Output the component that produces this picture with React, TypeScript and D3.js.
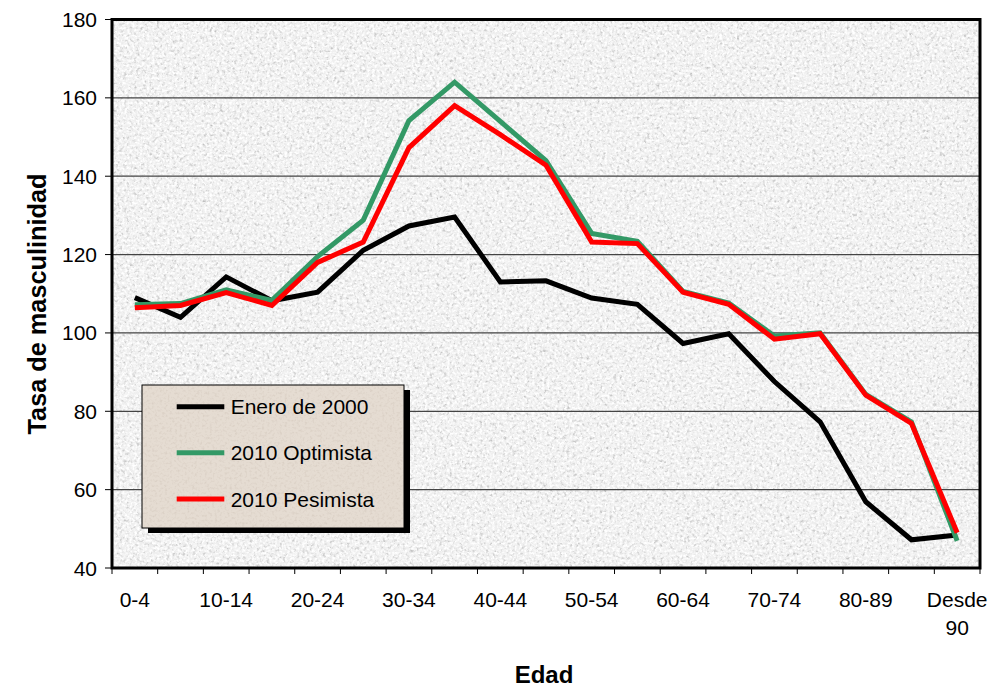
import React from "react";
import * as d3 from "d3";

const categories = ["0-4","5-9","10-14","15-19","20-24","25-29","30-34","35-39","40-44","45-49","50-54","55-59","60-64","65-69","70-74","75-79","80-89","85-89","Desde 90"];
const enero2000 = [109, 104, 114.3, 108.2, 110.4, 121.1, 127.3, 129.6, 113, 113.3, 108.9, 107.3, 97.3, 99.8, 87.6, 77.3, 56.9, 47.2, 48.4];
const optimista2010 = [107.2, 107.5, 111, 108.3, 119.5, 128.8, 154.2, 164, 154, 144, 125.4, 123.4, 110.6, 107.6, 99.2, 100, 84.3, 77.3, 46.9];
const pesimista2010 = [106.4, 107, 110.3, 107, 118, 123.2, 147.3, 158, 150.6, 142.8, 123.2, 122.8, 110.4, 107.3, 98.4, 99.8, 84.1, 76.9, 49];
const yTicks = [40, 60, 80, 100, 120, 140, 160, 180];

const seriesList = [
  { name: "Enero de 2000", values: enero2000, color: "#000000" },
  { name: "2010 Optimista", values: optimista2010, color: "#339966" },
  { name: "2010 Pesimista", values: pesimista2010, color: "#ff0000" },
];

const FONT = "'Liberation Sans', Arial, Helvetica, sans-serif";

export default function App() {
  const W = 992, H = 691;
  const x0 = 112, x1 = 980, y0 = 19.5, y1 = 568;
  const x = d3.scaleBand<string>().domain(categories).range([x0, x1]).padding(0);
  const y = d3.scaleLinear().domain([40, 180]).range([y1, y0]);
  const cx = (i: number) => (x(categories[i]) as number) + x.bandwidth() / 2;
  const line = d3.line<number>().x((_, i) => cx(i)).y((v) => y(v));

  const lg = { x: 142, y: 385, w: 262, h: 143 };
  const legendRows = [406.7, 452.7, 499];
  const fs = 21;

  return (
    <svg width={W} height={H} style={{ position: "absolute", left: 0, top: 0, background: "#fff" }} fontFamily={FONT}>
      <defs>
        <filter id="graniteDark" x="0" y="0" width="1" height="1">
          <feTurbulence type="fractalNoise" baseFrequency="0.3" numOctaves="3" seed="7" />
          <feColorMatrix type="matrix" values="0 0 0 0 0.5  0 0 0 0 0.5  0 0 0 0 0.5  2.4 0 0 0 -1.2" />
        </filter>
        <filter id="graniteLight" x="0" y="0" width="1" height="1">
          <feTurbulence type="fractalNoise" baseFrequency="0.4" numOctaves="2" seed="21" />
          <feColorMatrix type="matrix" values="0 0 0 0 1  0 0 0 0 1  0 0 0 0 1  0 3 0 0 -1.2" />
        </filter>
        <filter id="legendNoise" x="0" y="0" width="1" height="1">
          <feTurbulence type="fractalNoise" baseFrequency="0.4" numOctaves="2" seed="11" />
          <feColorMatrix type="matrix" values="0 0 0 0 0.6  0 0 0 0 0.52  0 0 0 0 0.45  2.2 0 0 0 -1.05" />
        </filter>
        <clipPath id="plotClip">
          <rect x={x0} y={y0} width={x1 - x0} height={y1 - y0} />
        </clipPath>
      </defs>

      {/* plot background */}
      <rect x={x0} y={y0} width={x1 - x0} height={y1 - y0} fill="#efefef" />
      <rect x={x0} y={y0} width={x1 - x0} height={y1 - y0} filter="url(#graniteDark)" />
      <rect x={x0} y={y0} width={x1 - x0} height={y1 - y0} filter="url(#graniteLight)" />

      {/* gridlines */}
      {yTicks.filter((t) => t > 40 && t < 180).map((t) => (
        <line key={t} x1={x0} x2={x1} y1={y(t)} y2={y(t)} stroke="#444" strokeWidth={1.2} />
      ))}

      {/* series */}
      <g clipPath="url(#plotClip)">
        {seriesList.map((s) => (
          <path key={s.name} d={line(s.values) || ""} fill="none" stroke={s.color} strokeWidth={5} strokeLinejoin="miter" />
        ))}
      </g>

      {/* plot border */}
      <rect x={x0} y={y0} width={x1 - x0} height={y1 - y0} fill="none" stroke="#000" strokeWidth={3} />

      {/* y ticks */}
      {yTicks.map((t) => (
        <g key={t}>
          <line x1={105} x2={x0} y1={y(t)} y2={y(t)} stroke="#000" strokeWidth={1} />
          <text x={97} y={y(t) + 7.5} textAnchor="end" fontSize={fs} fill="#000">{t}</text>
        </g>
      ))}

      {/* x ticks */}
      {categories.map((c) => (
        <line key={c + "t"} x1={x(c) as number} x2={x(c) as number} y1={y1} y2={574} stroke="#000" strokeWidth={1} />
      ))}
      <line x1={x1} x2={x1} y1={y1} y2={574} stroke="#000" strokeWidth={1} />
      {categories.map((c, i) => {
        if (i % 2 !== 0) return null;
        const parts = c === "Desde 90" ? ["Desde", "90"] : [c];
        return (
          <text key={c} x={cx(i)} y={606.7} textAnchor="middle" fontSize={fs} fill="#000">
            {parts.map((p, k) => (
              <tspan key={k} x={cx(i)} dy={k === 0 ? 0 : 28.3}>{p}</tspan>
            ))}
          </text>
        );
      })}

      {/* axis titles */}
      <text x={544} y={683} textAnchor="middle" fontSize={24} fontWeight="bold" fill="#000">Edad</text>
      <text transform={`translate(46,304) rotate(-90)`} textAnchor="middle" fontSize={25.3} fontWeight="bold" fill="#000">Tasa de masculinidad</text>

      {/* legend */}
      <rect x={lg.x + 6} y={lg.y + 5} width={lg.w} height={lg.h} fill="#000" />
      <rect x={lg.x} y={lg.y} width={lg.w} height={lg.h} fill="#e5dcd2" />
      <rect x={lg.x} y={lg.y} width={lg.w} height={lg.h} filter="url(#legendNoise)" opacity={0.5} />
      <rect x={lg.x} y={lg.y} width={lg.w} height={lg.h} fill="none" stroke="#000" strokeWidth={1} />
      {seriesList.map((s, i) => (
        <g key={s.name}>
          <line x1={176.7} x2={224.3} y1={legendRows[i]} y2={legendRows[i]} stroke={s.color} strokeWidth={5} />
          <text x={230.7} y={legendRows[i] + 7.5} fontSize={fs} fill="#000">{s.name}</text>
        </g>
      ))}
    </svg>
  );
}
